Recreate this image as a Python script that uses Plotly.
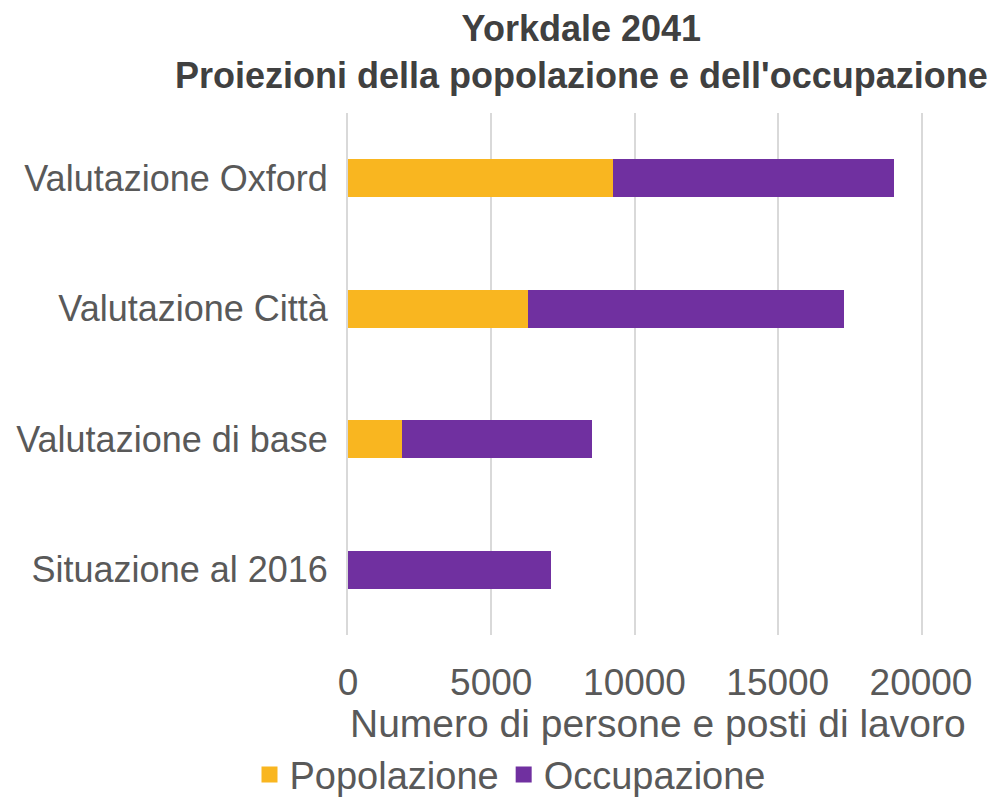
import plotly.graph_objects as go

categories = ["Situazione al 2016", "Valutazione di base", "Valutazione Città", "Valutazione Oxford"]
popolazione = [0, 1900, 6300, 9250]
occupazione = [7100, 6600, 11000, 9800]
x_ticks = [0, 5000, 10000, 15000, 20000]

YELLOW = "#F9B620"
PURPLE = "#7030A0"
FONT = "Liberation Sans, Arial, sans-serif"
TXT = "#595959"
GRID = "#D9D9D9"

fig = go.Figure()
fig.add_trace(go.Bar(y=categories, x=popolazione, name="Popolazione", orientation="h",
                     marker=dict(color=YELLOW, line=dict(width=0)), showlegend=False))
fig.add_trace(go.Bar(y=categories, x=occupazione, name="Occupazione", orientation="h",
                     marker=dict(color=PURPLE, line=dict(width=0)), showlegend=False))
# legend entries with larger square swatches
for nm, col in [("Popolazione", YELLOW), ("Occupazione", PURPLE)]:
    fig.add_trace(go.Scatter(x=[None], y=[None], mode="markers", name=nm,
                             marker=dict(symbol="square", size=16, color=col)))

fig.update_layout(
    barmode="stack",
    bargap=0.71,
    width=1004, height=802,
    margin=dict(l=340, r=91, t=105, b=175),
    paper_bgcolor="white", plot_bgcolor="white",
    font=dict(family=FONT, color=TXT, size=36),
    legend=dict(orientation="h", x=0.500, xref="container", xanchor="center",
                y=0.044, yref="container", yanchor="middle",
                font=dict(size=38, color=TXT), itemwidth=30, traceorder="normal"),
    showlegend=True,
    annotations=[
        dict(text="<b>Yorkdale 2041<br>Proiezioni della popolazione e dell'occupazione</b>",
             xref="paper", yref="paper", x=0.408, y=1, xanchor="center", yanchor="bottom",
             yshift=15, showarrow=False, font=dict(family=FONT, size=36, color="#404040")),
        dict(text="Numero di persone e posti di lavoro", xref="paper", yref="paper",
             x=0.541, y=-0.170, xanchor="center", yanchor="middle",
             showarrow=False, font=dict(size=39, color=TXT)),
    ],
)
fig.update_xaxes(range=[0, 20000], tickvals=x_ticks, ticktext=[str(v) for v in x_ticks],
                 showgrid=True, gridcolor=GRID, gridwidth=2, zeroline=False,
                 showline=False, ticks="", ticklabelstandoff=22, tickfont=dict(size=37),
                 automargin=False)
fig.update_yaxes(categoryorder="array", categoryarray=categories, showgrid=False,
                 showline=True, mirror=True, linecolor=GRID, linewidth=2,
                 ticks="", ticklabelstandoff=11, range=[-0.5, 3.5], automargin=False)

fig.write_html("out.html")
